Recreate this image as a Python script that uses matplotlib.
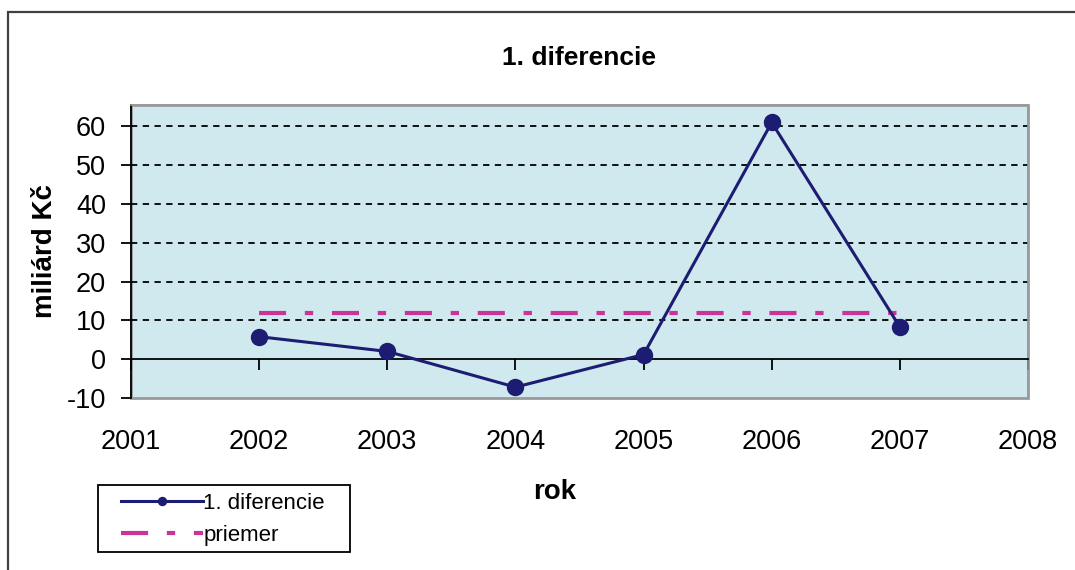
import matplotlib
matplotlib.use("Agg")
import matplotlib.pyplot as plt
from matplotlib.patches import Rectangle
from matplotlib.ticker import FixedLocator

plt.rcParams['font.family'] = ['Liberation Sans', 'DejaVu Sans']
plt.rcParams['axes.unicode_minus'] = False

# hodnoty 1. diferencie (miliárd Kč)
roky = [2002, 2003, 2004, 2005, 2006, 2007]
diferencie = [5.8, 2.0, -7.2, 1.2, 61.0, 8.3]
priemer = sum(diferencie) / len(diferencie)

roky_osi = [2001, 2002, 2003, 2004, 2005, 2006, 2007, 2008]
y_ticky = [-10, 0, 10, 20, 30, 40, 50, 60]

fig = plt.figure(figsize=(10.75, 5.7), dpi=100)
ax = fig.add_axes([131/1075, 1 - 398/570, (1028 - 131)/1075, (398 - 105)/570])
ax.set_facecolor('#cfe9ee')

ax.plot(roky, diferencie, color='#1c1c72', lw=2.2, marker='o', markersize=11.5,
        label='1. diferencie', zorder=4)
ax.plot(roky, [priemer] * len(roky), color='#cc3399', lw=3, dashes=(6.5, 4.5, 2, 4.5),
        label='priemer', zorder=3)

ax.set_xlim(2001, 2008)
ax.set_ylim(-10, 65.5)

# os x pretína v nule, popisky sú dole
ax.spines['bottom'].set_position(('data', 0))
ax.spines['bottom'].set_linewidth(1.3)
ax.xaxis.set_major_locator(FixedLocator(roky_osi))
ax.tick_params(axis='x', direction='out', length=8, width=1.3, labelbottom=False)
sec = ax.secondary_xaxis('bottom')
sec.xaxis.set_major_locator(FixedLocator(roky_osi))
sec.xaxis.set_major_formatter(plt.FuncFormatter(lambda v, p: f'{int(v)}'))
sec.tick_params(length=0, pad=22, labelsize=19.5)
sec.spines['bottom'].set_visible(False)

ax.yaxis.set_major_locator(FixedLocator(y_ticky))
ax.tick_params(axis='y', direction='out', length=7, width=1.3, pad=11, labelsize=19.5)
ax.spines['left'].set_linewidth(1.3)
for s in ['top', 'right']:
    ax.spines[s].set_color('#9a9a9a')
    ax.spines[s].set_linewidth(1.2)
ax.patch.set_edgecolor('#9a9a9a')
ax.patch.set_linewidth(2)

ax.grid(axis='y', color='black', lw=1.3, dashes=(3.5, 3))
for g, v in zip(ax.get_ygridlines(), y_ticky):
    if v <= 0:
        g.set_visible(False)

ax.set_title('1. diferencie', fontsize=19, fontweight='bold', pad=29)
ax.set_ylabel('miliárd Kč', fontsize=20, fontweight='bold', labelpad=6)
fig.text(555/1075, 1 - 492/570, 'rok', fontsize=20, fontweight='bold',
         ha='center', va='center')

# legenda bez vlastného rámu, rám sa kreslí zvlášť
leg = ax.legend(loc='upper left', bbox_to_anchor=(121/1075, 1 - 493/570),
                bbox_transform=fig.transFigure, fontsize=16, frameon=False,
                handlelength=3.7, handletextpad=0, markerscale=0.5,
                borderpad=0, labelspacing=0.5, borderaxespad=0)
fig.patches.append(Rectangle((98/1075, 1 - 552/570), 252/1075, 67/570,
                             transform=fig.transFigure, fill=False,
                             edgecolor='black', lw=1.3))

# rámček grafu
fig.patches.append(Rectangle((8/1075, -0.05), 1.1, 1.05 - 12/570, transform=fig.transFigure,
                             fill=False, edgecolor='#404040', lw=1.6))

fig.savefig('out.png', dpi=100)
